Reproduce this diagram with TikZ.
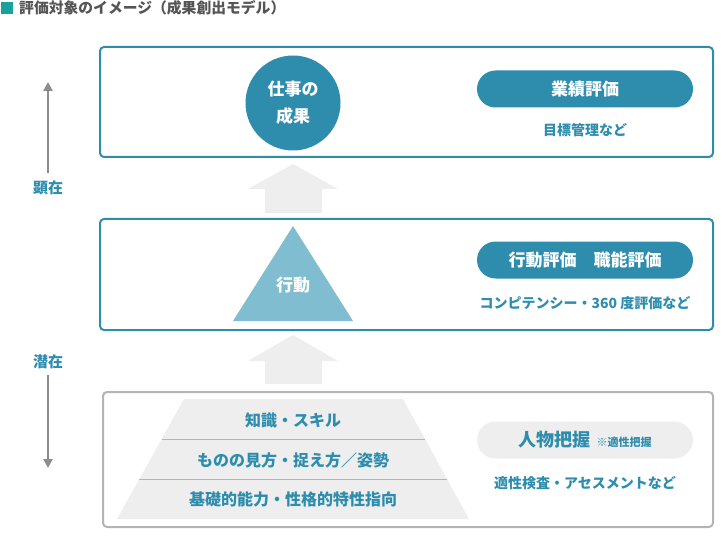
\documentclass[tikz,border=0pt]{standalone}
\usepackage{fontspec}
\setmainfont{Noto Sans CJK JP}
\usetikzlibrary{arrows.meta}

\definecolor{mainblue}{HTML}{2E8DAD}
\definecolor{lightblue}{HTML}{80BDD0}
\definecolor{palegray}{HTML}{EEEEEE}
\definecolor{linegray}{HTML}{B4B4B4}
\definecolor{titlegray}{HTML}{555555}
\definecolor{markgreen}{HTML}{17A2A0}
\definecolor{arrowgray}{HTML}{8C8C8C}

\tikzset{
  levelbox/.style={line width=2pt, rounded corners=4pt},
  pill/.style={rectangle, rounded corners=18.5pt, minimum width=216pt, minimum height=37pt, inner sep=0pt},
  bluetext/.style={text=mainblue, font=\fontsize{14}{16}\selectfont\bfseries},
  stacktext/.style={text=mainblue, font=\fontsize{16}{18}\selectfont\bfseries},
  upblock/.style={fill=palegray},
  sidearrow/.style={draw=arrowgray, line width=2pt, -{Triangle[width=9pt,length=9pt]}}
}

\begin{document}
\begin{tikzpicture}[x=1pt, y=-1pt]
  \useasboundingbox (0,0) rectangle (728,540);

  % title
  \fill[markgreen] (1,2) rectangle (13,14);
  \node[anchor=west, inner sep=0pt, text=titlegray, font=\fontsize{14.8}{16}\selectfont\bfseries] (title) at (19,8) {評価対象のイメージ（成果創出モデル）};

  % upper level
  \draw[levelbox, draw=mainblue] (100,47) rectangle (713,157);
  \node[circle, fill=mainblue, minimum size=95pt, inner sep=0pt, align=center, text=white, font=\fontsize{17}{27}\selectfont\bfseries] (result) at (293,103) {仕事の\\成果};
  \node[pill, fill=mainblue, text=white, font=\fontsize{17}{19}\selectfont\bfseries] (gyoseki) at (585,89) {業績評価};
  \node[bluetext] (mbo) at (585,130) {目標管理など};

  \fill[upblock] (293,164) -- (338,189) -- (322,189) -- (322,213) -- (265,213) -- (265,189) -- (248,189) -- cycle;

  % middle level
  \draw[levelbox, draw=mainblue] (100,219) rectangle (713,330);
  \fill[lightblue] (293,226) -- (353,321) -- (233,321) -- cycle;
  \node[text=white, font=\fontsize{17}{19}\selectfont\bfseries] (action) at (293,285) {行動};
  \node[pill, fill=mainblue, text=white, font=\fontsize{17}{19}\selectfont\bfseries] (kodo) at (585,260) {行動評価\hspace{1em}職能評価};
  \node[bluetext] (comp) at (585,303) {コンピテンシー・360 度評価など};

  \fill[upblock] (293,335) -- (338,361) -- (322,361) -- (322,384) -- (265,384) -- (265,361) -- (248,361) -- cycle;

  % lower level
  \draw[levelbox, draw=linegray] (103,392) rectangle (713,527);
  \fill[palegray] (184,399) -- (403,399) -- (469,519) -- (117,519) -- cycle;
  \draw[linegray, line width=1pt] (162,439) -- (425,439);
  \draw[linegray, line width=1pt] (139,479) -- (447,479);
  \node[stacktext] (skill) at (293,420) {知識・スキル};
  \node[stacktext] (view) at (293,460) {ものの見方・捉え方／姿勢};
  \node[stacktext] (base) at (293,499) {基礎的能力・性格的特性指向};
  \node[pill, fill=palegray, text=mainblue] (jinbutsu) at (585,440) {{\fontsize{18}{20}\selectfont\bfseries 人物把握}\hspace{6pt}{\fontsize{11}{13}\selectfont\bfseries ※適性把握}};
  \node[bluetext] (test) at (585,483) {適性検査・アセスメントなど};

  % side arrows
  \node[bluetext, font=\fontsize{15}{17}\selectfont\bfseries, inner sep=0pt] (kenzai) at (48,188) {顕在};
  \node[bluetext, font=\fontsize{15}{17}\selectfont\bfseries, inner sep=0pt] (senzai) at (48,362) {潜在};
  \coordinate (uptip) at (48,82);
  \coordinate (downtip) at (48,468);
  \draw[sidearrow, shorten <=8pt] (kenzai.north) -- (uptip);
  \draw[sidearrow, shorten <=6pt] (senzai.south) -- (downtip);
\end{tikzpicture}
\end{document}
